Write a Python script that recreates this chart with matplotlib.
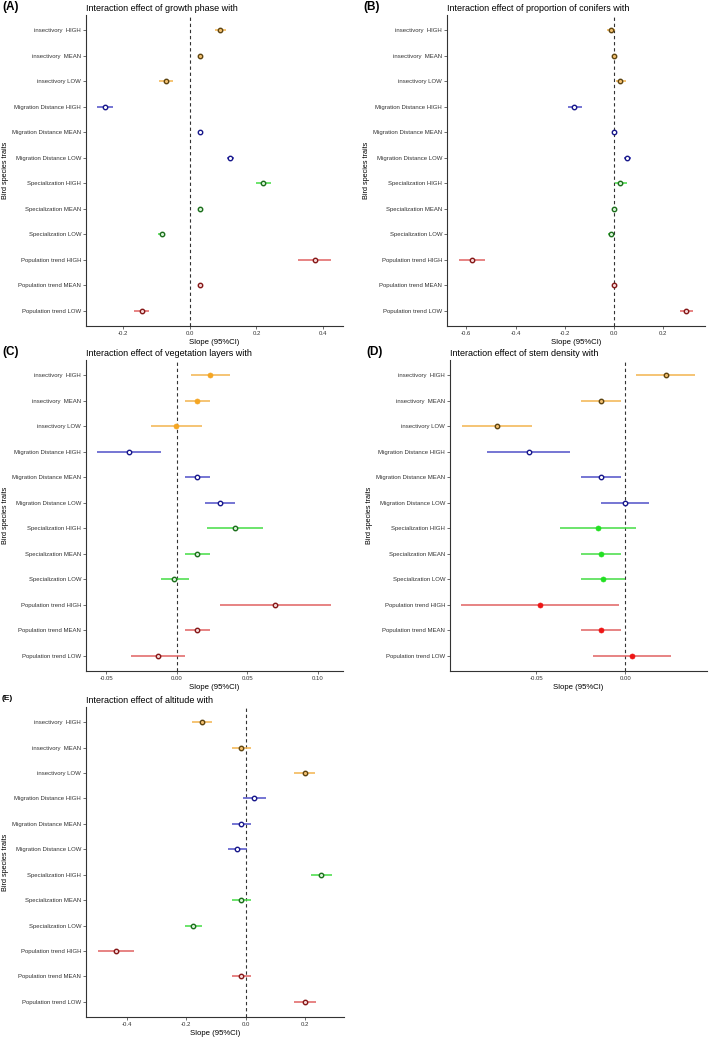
import matplotlib.pyplot as plt
from matplotlib.ticker import FormatStrFormatter

plt.rcParams['font.family'] = ['Liberation Sans', 'DejaVu Sans']

traits = ['insectivory  HIGH', 'insectivory  MEAN', 'insectivory LOW',
          'Migration Distance HIGH', 'Migration Distance MEAN', 'Migration Distance LOW',
          'Specialization HIGH', 'Specialization MEAN', 'Specialization LOW',
          'Population trend HIGH', 'Population trend MEAN', 'Population trend LOW']
groups = ['ins'] * 3 + ['mig'] * 3 + ['spec'] * 3 + ['pop'] * 3

# (A) growth phase
est_A = [0.092, 0.030, -0.073, -0.255, 0.030, 0.122, 0.220, 0.030, -0.085, 0.375, 0.030, -0.145]
lo_A = [0.075, 0.025, -0.092, -0.278, 0.025, 0.112, 0.198, 0.025, -0.095, 0.325, 0.025, -0.167]
hi_A = [0.110, 0.035, -0.052, -0.230, 0.035, 0.134, 0.243, 0.035, -0.075, 0.425, 0.035, -0.122]

# (B) proportion of conifers
est_B = [-0.013, 0.0, 0.024, -0.161, 0.0, 0.054, 0.024, 0.0, -0.013, -0.578, 0.0, 0.293]
lo_B = [-0.030, -0.006, 0.007, -0.185, -0.006, 0.042, 0.004, -0.006, -0.023, -0.631, -0.006, 0.268]
hi_B = [0.004, 0.006, 0.047, -0.131, 0.006, 0.069, 0.051, 0.006, -0.003, -0.523, 0.006, 0.322]

# (C) vegetation layers
est_C = [0.0238, 0.0144, -0.0007, -0.0340, 0.0144, 0.0304, 0.0410, 0.0144, -0.0017, 0.0696, 0.0144, -0.0134]
lo_C = [0.0097, 0.0060, -0.0184, -0.0564, 0.0060, 0.0200, 0.0210, 0.0060, -0.0116, 0.0304, 0.0060, -0.0328]
hi_C = [0.0375, 0.0233, 0.0175, -0.0113, 0.0233, 0.0410, 0.0610, 0.0233, 0.0087, 0.1094, 0.0233, 0.0059]

# (D) stem density
est_D = [0.0227, -0.0137, -0.0724, -0.0545, -0.0137, 0.0, -0.0154, -0.0137, -0.0126, -0.0483, -0.0137, 0.0038]
lo_D = [0.0062, -0.0250, -0.0917, -0.0780, -0.0250, -0.0135, -0.0367, -0.0250, -0.0248, -0.0925, -0.0250, -0.0182]
hi_D = [0.0395, -0.0023, -0.0526, -0.0310, -0.0023, 0.0132, 0.0060, -0.0023, 0.0, -0.0034, -0.0023, 0.0258]

# (E) altitude
est_E = [-0.147, -0.015, 0.198, 0.029, -0.015, -0.028, 0.255, -0.015, -0.176, -0.438, -0.015, 0.199]
lo_E = [-0.180, -0.045, 0.161, -0.010, -0.045, -0.060, 0.219, -0.045, -0.206, -0.499, -0.045, 0.161]
hi_E = [-0.112, 0.017, 0.235, 0.068, 0.017, 0.003, 0.292, 0.017, -0.146, -0.377, 0.017, 0.236]

line_col = {'ins': '#F3B44E', 'mig': '#5050C8', 'spec': '#44DD44', 'pop': '#E06262'}
edge_col = {'ins': '#5E4512', 'mig': '#17178A', 'spec': '#1C6E1C', 'pop': '#851818'}
face_col = {'ins': '#F3C070', 'mig': '#FFFFFF', 'spec': '#D8F5D8', 'pop': '#F5D8D8'}
fill_col = {'ins': '#F5A623', 'mig': '#2020A0', 'spec': '#22E022', 'pop': '#EE1515'}

W, H = 709, 1037
fig = plt.figure(figsize=(W / 100, H / 100), dpi=100)


def panel(box, tag, title, est, lo, hi, filled, xlim, xticks, fmt, tagsize=8.5):
    l, r, t, b = box
    ax = fig.add_axes([l / W, 1 - b / H, (r - l) / W, (b - t) / H])
    n = len(traits)
    for i in range(n):
        y = n - 1 - i
        g = groups[i]
        ax.plot([lo[i], hi[i]], [y, y], color=line_col[g], lw=1.1, solid_capstyle='butt', zorder=2)
        if filled[i]:
            ax.plot(est[i], y, 'o', ms=3.6, mfc=fill_col[g], mec=fill_col[g], mew=0.5, zorder=3)
        else:
            ax.plot(est[i], y, 'o', ms=3.2, mfc=face_col[g], mec=edge_col[g], mew=1.0, zorder=3)
    ax.axvline(0, color='#333333', ls=(0, (3, 2.5)), lw=0.8, zorder=1)
    ax.set_ylim(-0.6, n - 0.4)
    ax.set_yticks(range(n))
    ax.set_yticklabels(traits[::-1])
    ax.set_xlim(*xlim)
    ax.set_xticks(xticks)
    ax.xaxis.set_major_formatter(FormatStrFormatter(fmt))
    for s in ['top', 'right']:
        ax.spines[s].set_visible(False)
    for s in ['left', 'bottom']:
        ax.spines[s].set_linewidth(0.8)
        ax.spines[s].set_color('#333333')
    ax.tick_params(labelsize=4.3, length=2, width=0.5, pad=1.5, colors='#333333', labelcolor='#333333')
    ax.set_xlabel('Slope (95%CI)', fontsize=5.6, labelpad=2)
    ax.set_ylabel('Bird species traits', fontsize=5.2, labelpad=2)
    ax.set_title(title, fontsize=6.5, loc='left', pad=3)
    fig.text((l - 84) / W, 1 - (t - 8) / H, tag, fontsize=tagsize, fontweight='bold', va='center', ha='left')
    return ax


panel((86, 343, 15, 326), '(A)', 'Interaction effect of growth phase with',
      est_A, lo_A, hi_A, [False] * 12, (-0.312, 0.46), [-0.2, 0.0, 0.2, 0.4], '%.1f')
panel((447, 705, 15, 326), '(B)', 'Interaction effect of proportion of conifers with',
      est_B, lo_B, hi_B, [False] * 12, (-0.678, 0.369), [-0.6, -0.4, -0.2, 0.0, 0.2], '%.1f')
panel((86, 343, 360, 671), '(C)', 'Interaction effect of vegetation layers with',
      est_C, lo_C, hi_C, [True] * 3 + [False] * 9, (-0.0644, 0.1177), [-0.05, 0.0, 0.05, 0.10], '%.2f')
panel((450, 707, 360, 671), '(D)', 'Interaction effect of stem density with',
      est_D, lo_D, hi_D, [False] * 6 + [True] * 6, (-0.0987, 0.046), [-0.05, 0.0], '%.2f')
panel((86, 344, 707, 1017), '(E)', 'Interaction effect of altitude with',
      est_E, lo_E, hi_E, [False] * 12, (-0.538, 0.331), [-0.4, -0.2, 0.0, 0.2], '%.1f', tagsize=6)

fig.savefig('out.png', dpi=100)
